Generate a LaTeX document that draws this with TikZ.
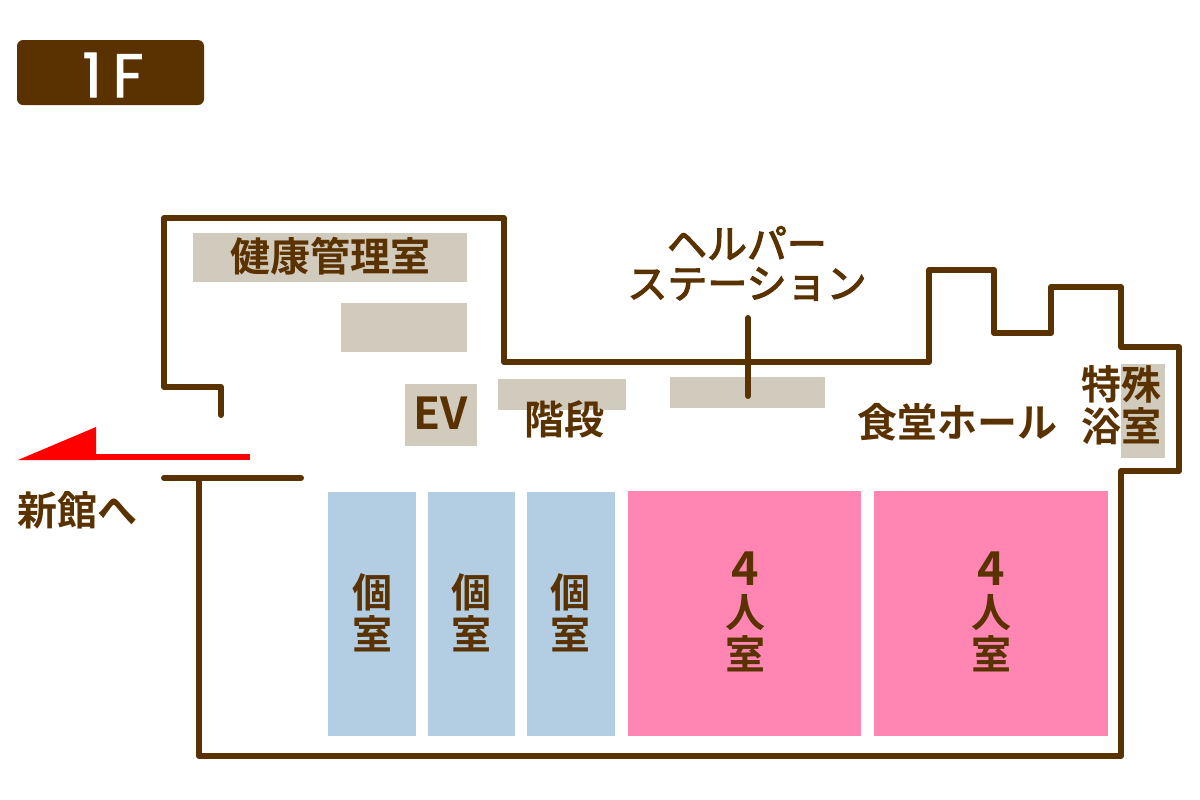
\documentclass[tikz,border=0pt]{standalone}
\usepackage{fontspec}
\setmainfont{Noto Sans CJK JP}[BoldFont={Noto Sans CJK JP Bold}]
\newfontfamily\badgefont{Poppins}[FakeBold=1.5]
\newfontfamily\helperfont{Noto Sans CJK JP}[FakeBold=3]
\definecolor{wallbrown}{HTML}{5A3200}
\definecolor{roomgray}{HTML}{D1CBBD}
\definecolor{roomblue}{HTML}{B3CDE3}
\definecolor{roompink}{HTML}{FF85B3}
\tikzset{
  wall/.style={draw=wallbrown,line width=4.5pt,line cap=round,line join=round},
  lbl/.style={text=wallbrown,font=\fontsize{30}{31.5}\selectfont\bfseries,inner sep=0pt,align=center},
  lblthin/.style={text=wallbrown,font=\fontsize{30}{31.5}\helperfont,inner sep=0pt,align=center},
}
\begin{document}
\begin{tikzpicture}[x=0.75pt,y=-0.75pt]
\useasboundingbox (0,0) rectangle (1200,800);
% badge
\fill[wallbrown,rounded corners=4.5pt] (17,40) rectangle (204,105);
\node[text=white,font=\fontsize{46}{46}\badgefont,inner sep=0pt] (badge) at (113,75) {1\hspace{8pt}F};
% gray areas
\fill[roomgray] (193,233) rectangle (467,282);
\fill[roomgray] (341,303) rectangle (467,352);
\fill[roomgray] (405,384) rectangle (477,446);
\fill[roomgray] (498,379) rectangle (626,410);
\fill[roomgray] (670,377) rectangle (825,408);
\fill[roomgray] (1121,364) rectangle (1165,458);
% rooms
\fill[roomblue] (328,492) rectangle (416,736);
\fill[roomblue] (428,492) rectangle (515,736);
\fill[roomblue] (527,492) rectangle (615,736);
\fill[roompink] (628,491) rectangle (861,736);
\fill[roompink] (874,491) rectangle (1108,736);
% walls
\path[wall] (221,415) -- (221,387) -- (164,387) -- (164,218) -- (504,218) -- (504,362) -- (929,362) -- (929,270) -- (994,270) -- (994,333) -- (1051,333) -- (1051,287) -- (1121,287) -- (1121,347) -- (1179,347) -- (1179,471) -- (1121,471) -- (1121,756) -- (199,756) -- (199,478);
\path[wall] (164,478) -- (301,478);
\coordinate (hsTop) at (748,318);
\coordinate (hsBot) at (748,396);
\path[wall] (hsTop) -- (hsBot);
% arrow
\coordinate (arrTail) at (250,457);
\coordinate (arrNeck) at (96,457);
\draw[red,line width=4.5pt] (arrTail) -- (arrNeck);
\fill[red] (18,460) -- (96,427) -- (96,460) -- cycle;
% labels
\node[lbl] (kenko) at (330,256) {健康管理室};
\node[lbl,font=\fontsize{33}{33}\selectfont\bfseries] (ev) at (441,413) {EV};
\node[lbl] (kaidan) at (564,419) {階段};
\node[lblthin] (helper1) at (747,243) {ヘルパー};
\node[lblthin] (helper2) at (747,284) {ステーション};
\node[lbl] (shokudo) at (957,422) {食堂ホール};
\node[lbl] (tokuyoku) at (1121,405) {特殊\\浴室};
\node[lbl] (shinkan) at (77,510) {新館へ};
\node[lbl] (ko1) at (372,613) {個\\室};
\node[lbl] (ko2) at (471,613) {個\\室};
\node[lbl] (ko3) at (570,613) {個\\室};
\node[lbl] (four1) at (745,612) {{\fontsize{35}{31.5}\selectfont 4}\\人\\室};
\node[lbl] (four2) at (991,612) {{\fontsize{35}{31.5}\selectfont 4}\\人\\室};
\end{tikzpicture}
\end{document}
